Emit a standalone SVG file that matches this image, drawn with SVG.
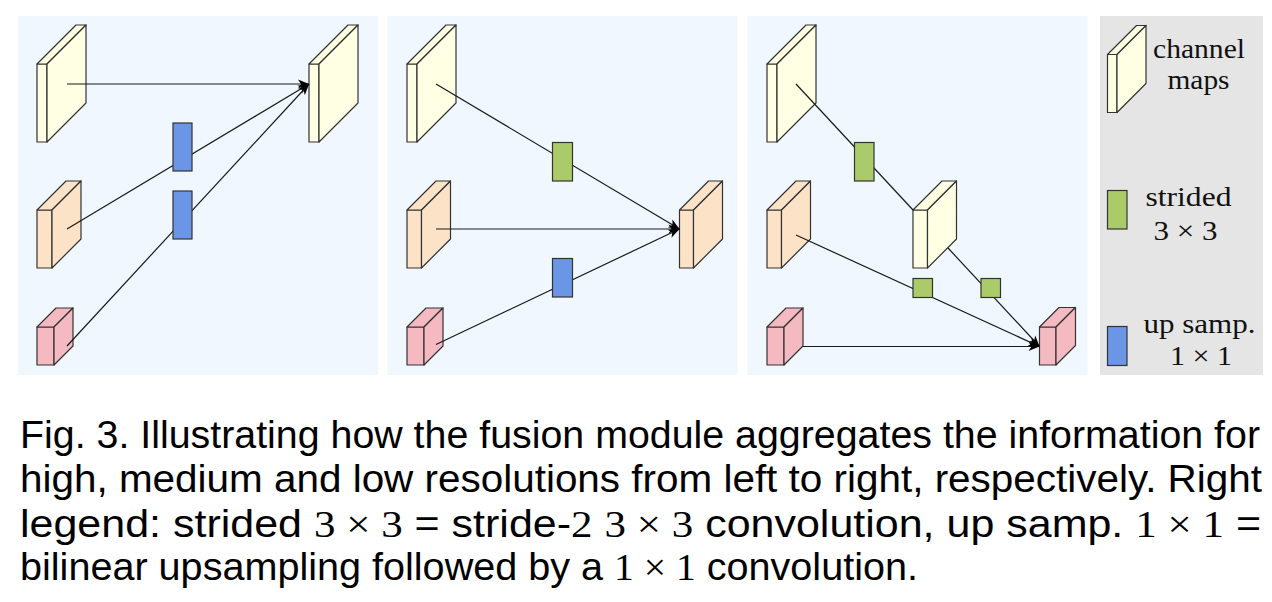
<svg xmlns="http://www.w3.org/2000/svg" width="1272" height="602" viewBox="0 0 1272 602">
<defs>
<style>
.bg{fill:#F0F7FE}
.lg{fill:#E5E5E5}
.y{fill:#FFFFE3;stroke:#333;stroke-width:1.2;stroke-linejoin:round}
.o{fill:#FCE3C8;stroke:#333;stroke-width:1.2;stroke-linejoin:round}
.p{fill:#F5BAC1;stroke:#333;stroke-width:1.2;stroke-linejoin:round}
.b{fill:#6B96E5;stroke:#333;stroke-width:1.2}
.g{fill:#ABCA69;stroke:#333;stroke-width:1.2}
.c{fill:none;stroke:#1a1a1a;stroke-width:1.2}
.a{marker-end:url(#arr)}
.lt{font-family:"Liberation Serif","DejaVu Serif",serif;font-size:27px;fill:#111;text-anchor:middle}
.cap{font-family:"Liberation Sans",Arial,sans-serif;font-size:38px;fill:#000}
.m{font-family:"Liberation Serif","DejaVu Serif",serif}
</style>
<marker id="arr" markerUnits="userSpaceOnUse" markerWidth="12" markerHeight="10" refX="11" refY="4.5" orient="auto" overflow="visible">
<path d="M0,0 L11,4.5 L0,9 L3,4.5 z" fill="#000"/>
</marker>
</defs>

<g id="backgrounds">
<rect class="bg" x="18" y="16" width="360" height="359"/>
<rect class="bg" x="387.5" y="16" width="350" height="359"/>
<rect class="bg" x="747.5" y="16" width="340" height="359"/>
<rect class="lg" x="1100" y="16" width="163" height="359"/>
</g>

<!-- panel 1 maps -->
<g id="p1-high">
<rect class="y" x="37" y="64" width="10" height="78"/>
<polygon class="y" points="37,64 47,64 86,25 76,25"/>
<polygon class="y" points="47,64 86,25 86,103 47,142"/>
</g>
<g id="p1-medium">
<rect class="o" x="37" y="210" width="15" height="58"/>
<polygon class="o" points="37,210 52,210 81,181 66,181"/>
<polygon class="o" points="52,210 81,181 81,239 52,268"/>
</g>
<g id="p1-low">
<rect class="p" x="37" y="327" width="17" height="38"/>
<polygon class="p" points="37,327 54,327 73,308 56,308"/>
<polygon class="p" points="54,327 73,308 73,346 54,365"/>
</g>
<g id="p1-out">
<rect class="y" x="309" y="64" width="10" height="78"/>
<polygon class="y" points="309,64 319,64 358,25 348,25"/>
<polygon class="y" points="319,64 358,25 358,103 319,142"/>
</g>

<!-- panel 2 maps -->
<g id="p2-high">
<rect class="y" x="407" y="64" width="10" height="78"/>
<polygon class="y" points="407,64 417,64 456,25 446,25"/>
<polygon class="y" points="417,64 456,25 456,103 417,142"/>
</g>
<g id="p2-medium">
<rect class="o" x="407" y="210" width="14.5" height="58"/>
<polygon class="o" points="407,210 421.5,210 450.5,181 436,181"/>
<polygon class="o" points="421.5,210 450.5,181 450.5,239 421.5,268"/>
</g>
<g id="p2-low">
<rect class="p" x="407" y="327" width="17" height="38"/>
<polygon class="p" points="407,327 424,327 443,308 426,308"/>
<polygon class="p" points="424,327 443,308 443,346 424,365"/>
</g>
<g id="p2-out">
<rect class="o" x="679.5" y="210" width="14" height="58"/>
<polygon class="o" points="679.5,210 693.5,210 722.5,181 708.5,181"/>
<polygon class="o" points="693.5,210 722.5,181 722.5,239 693.5,268"/>
</g>

<!-- panel 3 maps -->
<g id="p3-high">
<rect class="y" x="767" y="64" width="10" height="78"/>
<polygon class="y" points="767,64 777,64 816,25 806,25"/>
<polygon class="y" points="777,64 816,25 816,103 777,142"/>
</g>
<g id="p3-medium">
<rect class="o" x="767" y="210" width="14.5" height="58"/>
<polygon class="o" points="767,210 781.5,210 810.5,181 796,181"/>
<polygon class="o" points="781.5,210 810.5,181 810.5,239 781.5,268"/>
</g>
<g id="p3-low">
<rect class="p" x="767" y="327" width="17" height="38"/>
<polygon class="p" points="767,327 784,327 803,308 786,308"/>
<polygon class="p" points="784,327 803,308 803,346 784,365"/>
</g>
<g id="p3-mid">
<rect class="y" x="913" y="210" width="14.5" height="58"/>
<polygon class="y" points="913,210 927.5,210 956.5,181 942,181"/>
<polygon class="y" points="927.5,210 956.5,181 956.5,239 927.5,268"/>
</g>
<g id="p3-out">
<rect class="p" x="1039.5" y="327" width="16.5" height="38"/>
<polygon class="p" points="1039.5,327 1056,327 1075.5,307.5 1059,307.5"/>
<polygon class="p" points="1056,327 1075.5,307.5 1075.5,345.5 1056,365"/>
</g>

<g id="connectors">
<path class="c a" d="M67,84 L309,84"/>
<path class="c a" d="M67,229 L309,84"/>
<path class="c a" d="M67,346 L309,84"/>
<path class="c a" d="M436,84 L679.5,229"/>
<path class="c a" d="M436,229 L679.5,229"/>
<path class="c a" d="M436,344.5 L679.5,229"/>
<path class="c" d="M796,84 L913,210"/>
<path class="c a" d="M948,248 L1039.5,346.5"/>
<path class="c a" d="M796,235 L1039.5,346.5"/>
<path class="c a" d="M803,346.5 L1039.5,346.5"/>
</g>

<!-- conv blocks -->
<g id="p1-up1"><rect class="b" x="173" y="123" width="19" height="48"/></g>
<g id="p1-up2"><rect class="b" x="173" y="191" width="19" height="48"/></g>
<g id="p2-strided"><rect class="g" x="552.5" y="142.5" width="20" height="38.5"/></g>
<g id="p2-up"><rect class="b" x="552.5" y="258.5" width="20" height="38.5"/></g>
<g id="p3-strided1"><rect class="g" x="854.5" y="142.5" width="19.5" height="38.5"/></g>
<g id="p3-strided2"><rect class="g" x="913" y="278.5" width="19.5" height="19"/></g>
<g id="p3-strided3"><rect class="g" x="981" y="278.5" width="19.5" height="19"/></g>

<!-- legend -->
<g id="legend-map">
<rect class="y" x="1107.5" y="54.5" width="9.5" height="58"/>
<polygon class="y" points="1107.5,54.5 1117,54.5 1146,25.5 1136.5,25.5"/>
<polygon class="y" points="1117,54.5 1146,25.5 1146,83.5 1117,112.5"/>
<text class="lt" x="1199" y="58" textLength="92" lengthAdjust="spacingAndGlyphs">channel</text>
<text class="lt" x="1198.5" y="89" textLength="62" lengthAdjust="spacingAndGlyphs">maps</text>
</g>
<g id="legend-strided">
<rect class="g" x="1107.5" y="190.5" width="19.5" height="38.5"/>
<text class="lt" x="1188.5" y="206" textLength="86" lengthAdjust="spacingAndGlyphs">strided</text>
<text class="lt" x="1185.5" y="240" textLength="64" lengthAdjust="spacingAndGlyphs">3 × 3</text>
</g>
<g id="legend-up">
<rect class="b" x="1107.5" y="326.5" width="19.5" height="39"/>
<text class="lt" x="1199.5" y="333" textLength="112" lengthAdjust="spacingAndGlyphs">up samp.</text>
<text class="lt" x="1201" y="365" textLength="62" lengthAdjust="spacingAndGlyphs">1 × 1</text>
</g>

<g id="caption">
<text class="cap" x="20" y="448" textLength="1240" lengthAdjust="spacingAndGlyphs">Fig. 3. Illustrating how the fusion module aggregates the information for</text>
<text class="cap" x="20" y="492" textLength="1242" lengthAdjust="spacingAndGlyphs">high, medium and low resolutions from left to right, respectively. Right</text>
<text class="cap" x="20" y="537" textLength="1241" lengthAdjust="spacingAndGlyphs">legend: strided <tspan class="m">3 × 3</tspan> = stride-<tspan class="m">2</tspan> <tspan class="m">3 × 3</tspan> convolution, up samp. <tspan class="m">1 × 1</tspan> =</text>
<text class="cap" x="20" y="580" textLength="898" lengthAdjust="spacingAndGlyphs">bilinear upsampling followed by a <tspan class="m">1 × 1</tspan> convolution.</text>
</g>
</svg>
